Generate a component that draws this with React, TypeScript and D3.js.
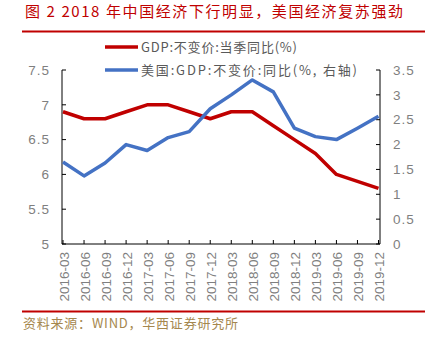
import React from "react";
import * as d3 from "d3";

const categories = ["2016-03","2016-06","2016-09","2016-12","2017-03","2017-06","2017-09","2017-12","2018-03","2018-06","2018-09","2018-12","2019-03","2019-06","2019-09","2019-12"];
const chinaGdp = [6.9, 6.8, 6.8, 6.9, 7.0, 7.0, 6.9, 6.8, 6.9, 6.9, 6.7, 6.5, 6.3, 6.0, 5.9, 5.8];
const usGdp = [1.65, 1.37, 1.63, 2.0, 1.88, 2.14, 2.26, 2.72, 3.0, 3.3, 3.06, 2.33, 2.16, 2.1, 2.33, 2.57];
const leftTicks = [5, 5.5, 6, 6.5, 7, 7.5];
const rightTicks = [0, 0.5, 1, 1.5, 2, 2.5, 3, 3.5];
const titleText = "图 2 2018 年中国经济下行明显，美国经济复苏强劲";
const legendChina = "GDP:不变价:当季同比(%)";
const legendUs = "美国:GDP:不变价:同比(%, 右轴)";
const sourceText = "资料来源：WIND，华西证券研究所";

const RED = "#C00000";
const BLUE = "#4472C4";
const GREY = "#7F7F7F";
const CJK = "'Noto Sans CJK SC', 'Noto Sans', sans-serif";
const LAT = "'Liberation Sans', Arial, sans-serif";

export default function App() {
  const W = 435, H = 343;
  const left = 62, right = 380, top = 70, bottom = 244;
  const x = d3.scalePoint<string>().domain(categories).range([63, 378.5]);
  const yL = d3.scaleLinear().domain([5, 7.5]).range([bottom, top]);
  const yR = d3.scaleLinear().domain([0, 3.5]).range([bottom, top]);
  const lineL = d3.line<number>().x((_, i) => x(categories[i])!).y(d => yL(d));
  const lineR = d3.line<number>().x((_, i) => x(categories[i])!).y(d => yR(d));

  return (
    <svg width={W} height={H} style={{ position: "fixed", left: 0, top: 0, background: "#fff" }}>
      <rect width={W} height={H} fill="#fff" />
      <text x={25} y={17} fontFamily={CJK} fontSize={15} fill={RED} textLength={378} lengthAdjust="spacing">{titleText}</text>
      <line x1={22} x2={425} y1={31.5} y2={31.5} stroke={RED} strokeWidth={2} />

      {/* legend */}
      <line x1={105} x2={138} y1={47} y2={47} stroke={RED} strokeWidth={3.5} />
      <text x={141} y={51.5} fontFamily={CJK} fontSize={13} fill="#595959" textLength={156} lengthAdjust="spacing">{legendChina}</text>
      <line x1={105} x2={138} y1={70} y2={70} stroke={BLUE} strokeWidth={3.5} />
      <text x={141} y={74.5} fontFamily={CJK} fontSize={13} fill="#595959" textLength={216} lengthAdjust="spacing">{legendUs}</text>

      {/* axes */}
      <line x1={left} x2={left} y1={top} y2={bottom} stroke="#000" strokeWidth={1} />
      <line x1={right} x2={right} y1={top} y2={bottom} stroke="#000" strokeWidth={1} />
      <line x1={left} x2={right} y1={bottom} y2={bottom} stroke="#000" strokeWidth={1} />
      {leftTicks.map(t => (
        <g key={"l" + t}>
          <line x1={left} x2={left + 4} y1={yL(t)} y2={yL(t)} stroke="#000" />
          <text x={50} y={yL(t)} dy="0.35em" textAnchor="end" fontFamily={LAT} fontSize={13.5} fill={GREY} letterSpacing={1}>{String(t).replace(".", ". ").replace(". ", ".")}</text>
        </g>
      ))}
      {rightTicks.map(t => (
        <g key={"r" + t}>
          <line x1={right - 4} x2={right} y1={yR(t)} y2={yR(t)} stroke="#000" />
          <text x={393} y={yR(t)} dy="0.35em" textAnchor="start" fontFamily={LAT} fontSize={13.5} fill={GREY} letterSpacing={1}>{String(t)}</text>
        </g>
      ))}
      {categories.map(c => (
        <g key={c}>
          <line x1={x(c)!} x2={x(c)!} y1={bottom} y2={bottom - 4} stroke="#000" />
          <text transform={`translate(${x(c)! + 1},252) rotate(-90)`} dy="0.35em" textAnchor="end" fontFamily={LAT} fontSize={13.5} fill={GREY}>{c}</text>
        </g>
      ))}

      <path d={lineL(chinaGdp)!} fill="none" stroke={RED} strokeWidth={3.5} strokeLinejoin="round" />
      <path d={lineR(usGdp)!} fill="none" stroke={BLUE} strokeWidth={3.5} strokeLinejoin="round" />

      <line x1={22} x2={425} y1={311.5} y2={311.5} stroke={RED} strokeWidth={2} />
      <text x={23} y={328} fontFamily={CJK} fontSize={13} fill="#A5874E" textLength={215} lengthAdjust="spacing">{sourceText}</text>
    </svg>
  );
}
